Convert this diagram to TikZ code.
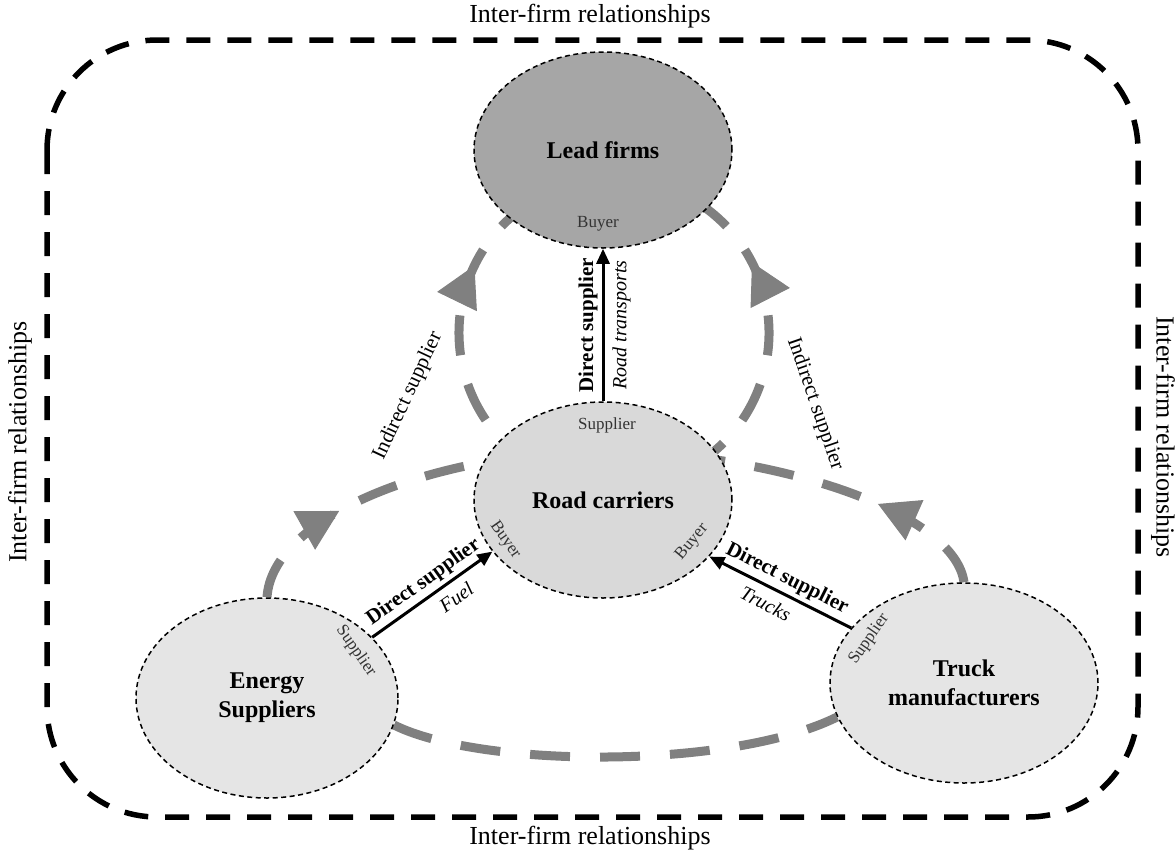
\documentclass[tikz,border=0pt]{standalone}
\usepackage{fontspec}
\setmainfont{Liberation Serif}
\usetikzlibrary{shapes.geometric,arrows.meta,decorations.markings,backgrounds}

\begin{document}
\begin{tikzpicture}[x=1pt, y=-1pt,
  firm/.style={ellipse, draw, line width=1.5pt, dash pattern=on 5pt off 3.5pt, inner sep=0pt,
    minimum width=258pt, minimum height=196pt, align=center, font=\fontsize{24}{29}\selectfont\bfseries},
  role/.style={inner sep=0pt, text=black!80, font=\fontsize{17}{20}\selectfont},
  link/.style={line width=3pt, -{Triangle[length=15pt,width=13pt]}},
  lbl/.style={inner sep=4pt, font=\fontsize{21}{25}\selectfont\bfseries},
  goods/.style={inner sep=8pt, font=\fontsize{20}{24}\selectfont\itshape},
  indirect/.style={draw=black!50, line width=9pt, dash pattern=on 40pt off 30pt},
  midarrow/.style={postaction={decorate}, decoration={markings,
    mark=at position #1 with {\arrow[black!50]{Triangle[length=40pt,width=44pt,line width=1pt]}}}},
  rel/.style={font=\fontsize{26}{30}\selectfont}]
  \useasboundingbox (0,0) rectangle (1176,854);

  % frame
  \draw[line width=5.5pt, dash pattern=on 24pt off 17pt, rounded corners=110pt] (47,40) rectangle (1138,817);
  \node[rel] (reltop) at (590,16) {Inter-firm relationships};
  \node[rel] (relbot) at (590,838) {Inter-firm relationships};
  \node[rel, rotate=90] (relleft) at (20,442) {Inter-firm relationships};
  \node[rel, rotate=-90] (relright) at (1163,437) {Inter-firm relationships};

  % firms
  \node[firm, fill=black!35] (lead) at (603,150) {Lead firms};
  \node[firm, fill=black!15] (carriers) at (603,500) {Road carriers};
  \node[firm, fill=black!10, minimum width=262pt, minimum height=200pt] (energy) at (267,698) {Energy\\Suppliers};
  \node[firm, fill=black!10, minimum width=268pt, minimum height=200pt] (trucks) at (964,683) {Truck\\manufacturers};

  % indirect relations, behind the firms
  \begin{scope}[on background layer]
    \coordinate (ring) at (614,333);
    \draw[indirect, midarrow=0.66] ([shift={(120:155)}]ring) arc[start angle=120, end angle=250, radius=155];
    \draw[indirect, midarrow=0.67] ([shift={(60:155)}]ring) arc[start angle=60, end angle=-70, radius=155];
    \draw[indirect, midarrow=0.3] (energy.north) .. controls (272,520) and (420,455) .. (603,450);
    \draw[indirect, midarrow=0.3] (trucks.north) .. controls (955,515) and (790,455) .. (603,450);
    \draw[indirect] (energy.-12) .. controls (480,768) and (730,770) .. (trucks.195);
  \end{scope}
  \node[font=\fontsize{21}{25}\selectfont, rotate=65] (indleft) at (408,396) {Indirect supplier};
  \node[font=\fontsize{21}{25}\selectfont, rotate=-71] (indright) at (815,404) {Indirect supplier};

  % direct relations
  \draw[link] (energy.30) -- (carriers.205)
    node[lbl, midway, sloped, above] {Direct supplier} node[goods, pos=0.62, sloped, below] {Fuel};
  \draw[link] (trucks.154) -- (carriers.-28)
    node[lbl, midway, sloped, above] {Direct supplier} node[goods, pos=0.55, sloped, below] {Trucks};
  \draw[link] (carriers.north) -- (lead.south)
    node[lbl, midway, sloped, above] {Direct supplier} node[goods, midway, sloped, below] {Road transports};

  \node[role] (leadbuyer) at (598,224) {Buyer};
  \node[role] (carrsup) at (607,425) {Supplier};
  \node[role, rotate=-55] (carrbuyl) at (505,540) {Buyer};
  \node[role, rotate=50] (carrbuyr) at (692,542) {Buyer};
  \node[role, rotate=-55] (enersup) at (356,651) {Supplier};
  \node[role, rotate=55] (trucksup) at (869,639) {Supplier};
\end{tikzpicture}
\end{document}
